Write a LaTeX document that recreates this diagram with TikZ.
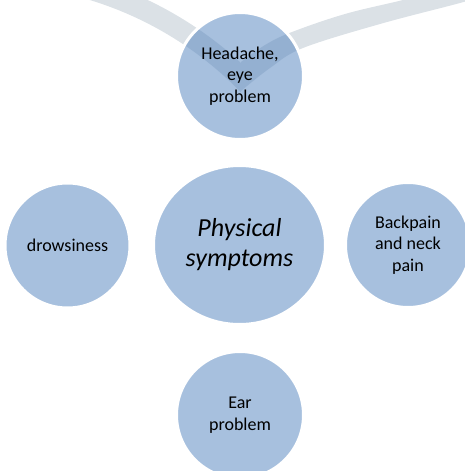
\documentclass[tikz,border=0pt]{standalone}
\usepackage{fontspec}
\setmainfont{Carlito}
\usetikzlibrary{shapes.geometric}
\definecolor{accent}{HTML}{4F81BD}
\definecolor{bandgrey}{HTML}{DBE1E6}
\begin{document}
\begin{tikzpicture}[x=1pt, y=-1pt,
  bubble/.style={circle, fill=accent, fill opacity=0.5, text opacity=1,
    draw=white, line width=3pt, inner sep=0pt, align=center,
    font=\fontsize{18}{21.5}\selectfont},
  hub/.style={ellipse, fill=accent, fill opacity=0.5, text opacity=1,
    draw=white, line width=3pt, inner sep=0pt, align=center,
    minimum width=172pt, minimum height=159pt,
    font=\fontsize{26}{30}\selectfont\itshape},
  band/.style={fill=bandgrey, draw=none}]
\useasboundingbox (0,0) rectangle (464,471);

% grey arcs running into the top bubble
\fill[band] plot[domain=47.4:70, samples=40]
    ({-14+376.5*cos(\x)}, {340-376.5*sin(\x)})
  -- plot[domain=81:44.2, samples=40]
    ({-14+355.5*cos(\x)}, {340-355.5*sin(\x)}) -- cycle;
\fill[band] plot[smooth, tension=0.6] coordinates
    {(241,62) (265,45) (292,32) (345,14) (403,0) (440,-10)}
  -- plot[smooth, tension=0.6] coordinates
    {(490,-6) (460,3) (380,24) (303,48) (270,68) (241,91)} -- cycle;

% bubbles
\node[hub] (core) at (239.5,245) {Physical\\symptoms};
\node[bubble, minimum size=127pt] (head) at (240,76) {Headache,\\eye\\problem};
\node[bubble, minimum size=125pt] (drowsy) at (67.5,245.5) {drowsiness};
\node[bubble, minimum size=125pt] (back) at (408,245) {Backpain\\and neck\\pain};
\node[bubble, minimum size=127pt] (ear) at (240,415) {Ear\\problem};
\end{tikzpicture}
\end{document}
